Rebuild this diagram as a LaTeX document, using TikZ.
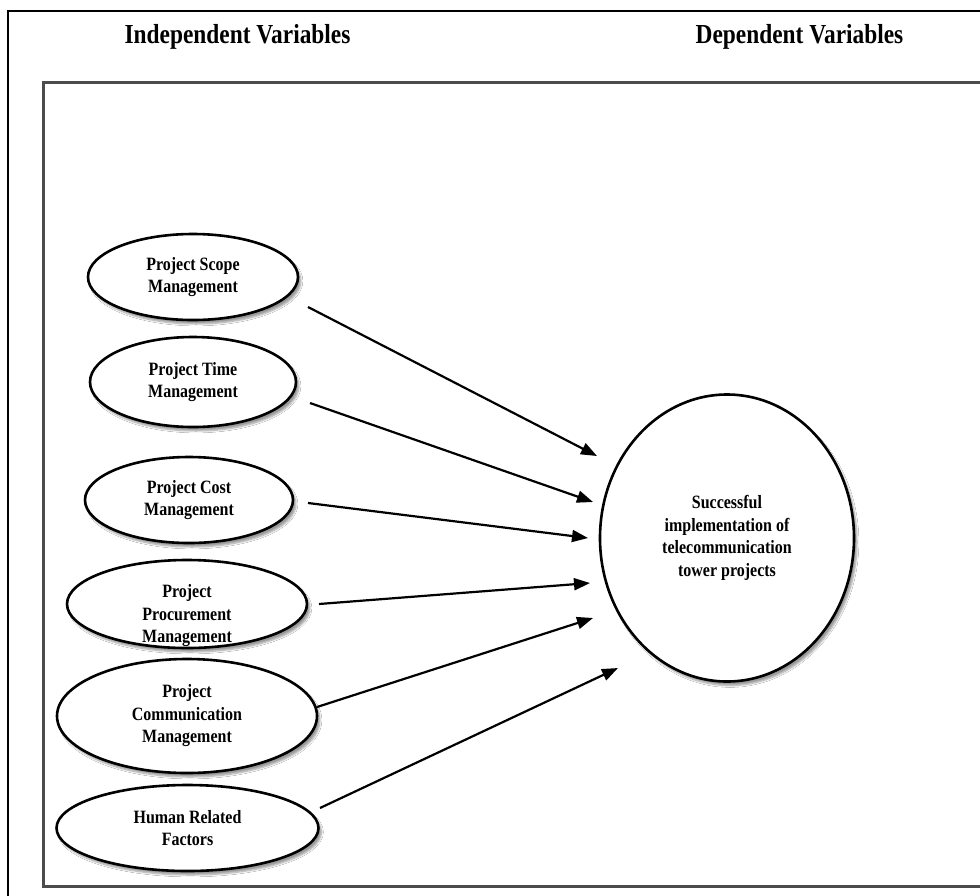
\documentclass[tikz,border=0pt]{standalone}
\usepackage{fontspec}
\setmainfont{Liberation Serif}
\newfontfamily\varfont[FakeStretch=0.85]{Liberation Serif}
\usetikzlibrary{arrows.meta,shapes.geometric,shadows.blur}
\begin{document}
\begin{tikzpicture}[x=1pt,y=-1pt,
  iv/.style={ellipse, draw=black, line width=2.6pt, fill=white, inner sep=0pt, align=center,
    font=\varfont\bfseries\fontsize{18.8}{22.5}\selectfont,
    blur shadow={shadow xshift=3pt, shadow yshift=-4pt, shadow blur steps=6, shadow opacity=40}},
  vtext/.style={align=center, inner sep=0pt, font=\varfont\bfseries\fontsize{18.8}{22.5}\selectfont},
  title/.style={font=\varfont\bfseries\fontsize{27.5}{30}\selectfont, inner sep=0pt, anchor=base},
  arr/.style={-{Triangle[length=16pt,width=12pt]}, line width=2.2pt, black},
  frame/.style={line width=3pt, draw=black!70},
  outerframe/.style={line width=1.5pt, draw=black}]
\useasboundingbox (0,0) rectangle (980,895);
\fill[white] (0,0) rectangle (980,895);
% outer frame (top and left visible)
\draw[outerframe] (990,11) -- (8,11) -- (8,900);
% inner frame
\draw[frame] (990,82) -- (43,82) -- (43,886) -- (990,886);
% titles
\node[title] (indep) at (237.5,43) {Independent Variables};
\node[title] (dep) at (799.5,43) {Dependent Variables};
% independent variables
\node[iv, minimum width=210pt, minimum height=86pt] (scope) at (193,277) {Project Scope\\Management};
\node[iv, minimum width=206pt, minimum height=90pt] (time) at (193,382) {Project Time\\Management};
\node[iv, minimum width=208pt, minimum height=86pt] (cost) at (189,500) {Project Cost\\Management};
\node[iv, minimum width=240pt, minimum height=88pt] (proc) at (187,604) {};
\node[vtext] (proctext) at (187,616) {Project\\Procurement\\Management};
\node[iv, minimum width=260pt, minimum height=114pt] (comm) at (187,716) {Project\\Communication\\Management};
\node[iv, minimum width=262pt, minimum height=86pt] (human) at (187.5,828) {Human Related\\Factors};
% dependent variable
\node[iv, minimum width=254pt, minimum height=287pt] (succ) at (727,538) {Successful\\implementation of\\telecommunication\\tower projects};
% arrow ends
\coordinate (a1) at (308,307); \coordinate (b1) at (597,456);
\coordinate (a2) at (310,403); \coordinate (b2) at (593,502);
\coordinate (a3) at (308,503); \coordinate (b3) at (588,538);
\coordinate (a4) at (319,604); \coordinate (b4) at (590,583);
\coordinate (a5) at (317,707); \coordinate (b5) at (593,618);
\coordinate (a6) at (320,808); \coordinate (b6) at (618,668);
\draw[arr] (a1) -- (b1);
\draw[arr] (a2) -- (b2);
\draw[arr] (a3) -- (b3);
\draw[arr] (a4) -- (b4);
\draw[arr] (a5) -- (b5);
\draw[arr] (a6) -- (b6);
\end{tikzpicture}
\end{document}
